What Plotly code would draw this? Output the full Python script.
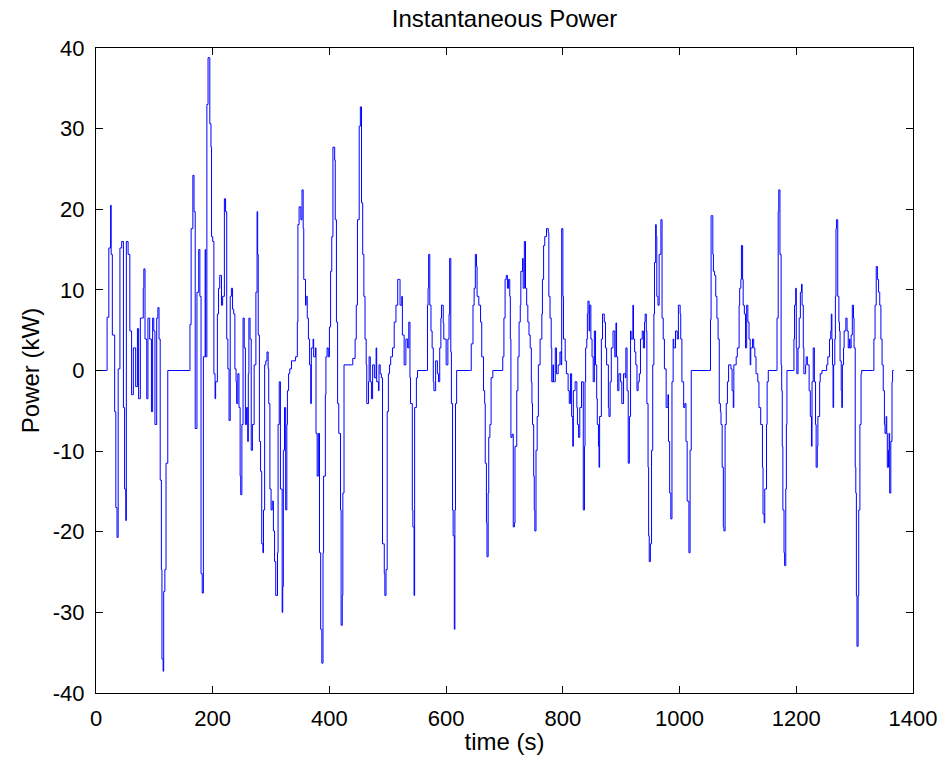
import plotly.graph_objects as go

# time (s) and instantaneous power (kW)
time_s = [
    0, 18, 19, 22, 25, 26, 28, 32, 34, 36,
    38, 41, 44, 47, 49, 51, 52, 55, 58, 61,
    64, 68, 71, 73, 76, 81, 82, 84, 87, 89,
    92, 95, 97, 99, 101, 104, 106, 108, 110, 112,
    113, 115, 116, 118, 120, 123, 160, 161, 163, 166,
    168, 170, 173, 176, 178, 180, 182, 184, 187, 188,
    190, 192, 195, 197, 198, 200, 202, 204, 205, 208,
    210, 212, 215, 217, 220, 222, 224, 226, 228, 230,
    232, 234, 236, 238, 240, 241, 243, 245, 247, 248,
    250, 252, 254, 256, 258, 260, 261, 262, 264, 266,
    268, 271, 274, 276, 277, 278, 280, 282, 284, 286,
    287, 289, 291, 293, 295, 296, 298, 300, 302, 304,
    306, 308, 311, 312, 314, 316, 319, 320, 321, 323,
    325, 327, 328, 330, 332, 335, 342, 345, 346, 348,
    351, 353, 355, 356, 359, 360, 362, 364, 366, 368,
    369, 372, 373, 376, 377, 379, 381, 383, 385, 387,
    389, 390, 393, 394, 396, 398, 400, 402, 404, 406,
    409, 410, 412, 414, 416, 419, 420, 422, 423, 425,
    440, 444, 446, 448, 451, 453, 455, 457, 459, 461,
    463, 464, 467, 468, 470, 472, 474, 477, 480, 481,
    484, 485, 487, 489, 491, 494, 495, 497, 499, 501,
    503, 505, 508, 511, 514, 517, 520, 521, 524, 525,
    528, 531, 534, 536, 538, 539, 542, 543, 545, 546,
    549, 551, 566, 568, 569, 570, 572, 574, 576, 578,
    579, 582, 585, 587, 589, 591, 592, 595, 596, 600,
    603, 605, 606, 608, 609, 611, 612, 614, 615, 616,
    618, 640, 643, 646, 648, 650, 652, 653, 656, 659,
    661, 664, 666, 667, 669, 670, 672, 673, 675, 677,
    680, 696, 697, 699, 701, 703, 705, 707, 709, 710,
    711, 713, 715, 717, 718, 721, 723, 725, 727, 728,
    731, 732, 734, 736, 738, 740, 742, 744, 746, 747,
    748, 750, 751, 752, 754, 756, 758, 761, 764, 765,
    767, 769, 772, 775, 776, 778, 780, 781, 783, 784,
    787, 789, 792, 795, 797, 798, 800, 801, 804, 806,
    809, 811, 813, 815, 817, 818, 821, 824, 825, 827,
    829, 832, 835, 837, 838, 839, 841, 842, 843, 845,
    846, 848, 850, 852, 854, 856, 858, 859, 861, 862,
    863, 866, 868, 871, 873, 875, 878, 879, 881, 883,
    886, 889, 891, 892, 894, 896, 899, 901, 904, 907,
    908, 910, 912, 914, 916, 917, 920, 921, 923, 925,
    927, 929, 931, 933, 936, 938, 940, 941, 943, 944,
    946, 947, 948, 950, 952, 954, 956, 957, 959, 960,
    961, 963, 965, 968, 970, 972, 974, 977, 980, 981,
    983, 985, 987, 989, 990, 993, 996, 998, 1001, 1002,
    1004, 1007, 1009, 1011, 1013, 1016, 1018, 1020, 1050, 1053,
    1054, 1057, 1058, 1060, 1062, 1064, 1066, 1068, 1070, 1071,
    1073, 1075, 1076, 1078, 1080, 1082, 1084, 1088, 1090, 1092,
    1093, 1097, 1099, 1102, 1103, 1105, 1106, 1108, 1109, 1111,
    1113, 1115, 1117, 1119, 1121, 1122, 1125, 1127, 1129, 1131,
    1134, 1136, 1139, 1142, 1143, 1145, 1146, 1149, 1150, 1152,
    1166, 1167, 1169, 1170, 1172, 1174, 1175, 1176, 1177, 1179,
    1180, 1182, 1183, 1184, 1195, 1196, 1197, 1199, 1200, 1201, 1203,
    1205, 1207, 1209, 1210, 1212, 1213, 1216, 1217, 1219, 1222,
    1224, 1226, 1227, 1229, 1231, 1233, 1234, 1236, 1237, 1240,
    1241, 1244, 1252, 1254, 1257, 1259, 1260, 1261, 1262, 1263,
    1264, 1266, 1267, 1268, 1269, 1271, 1273, 1274, 1275, 1277,
    1278, 1279, 1281, 1282, 1285, 1287, 1289, 1291, 1292, 1294,
    1296, 1298, 1299, 1301, 1302, 1303, 1304, 1306, 1307, 1309,
    1311, 1312, 1331, 1333, 1335, 1337, 1339, 1341, 1343, 1345,
    1347, 1349, 1351, 1352, 1354, 1355, 1356, 1358, 1359, 1360,
    1362, 1364, 1365, 1367,
]

power_kw = [
    0, 0, 6.6, 15.2, 20.5, 14.4, 4.4, -5.1, -17.0, -20.7,
    0.2, 15.2, 16.0, -4.6, -14.7, -18.6, 16.0, 14.4, 4.9, -3.0,
    2.8, -2.0, 5.2, -3.5, 6.5, 10.2, 12.6, 3.9, -3.5, 6.5,
    3.9, -5.1, 6.5, 4.9, -6.7, 6.5, 7.8, 3.9, -13.6, -24.7,
    -35.8, -37.3, -27.4, -24.7, -11.5, 0, 0, 5.7, 17.6, 24.2,
    19.7, -7.2, 9.7, 15.0, 9.2, -25.2, -27.6, 1.7, 15.0, 1.7,
    33.0, 38.8, 30.6, 27.7, 16.6, 16.0, -0.4, -3.5, -1.4, 7.0,
    10.2, 11.8, 8.1, 9.2, 21.3, 19.7, 3.9, 0.2, -6.2, 9.2,
    10.2, 7.6, 7.0, 0.2, -1.4, -4.1, -0.4, -4.6, -13.1, -15.4,
    -6.7, 6.5, 2.8, -6.7, -4.6, -8.8, -0.4, 6.5, 3.9, -9.9,
    -6.7, 0.7, 9.7, 19.7, 14.4, 4.4, -8.8, -12.5, -21.5, -22.6,
    -17.3, 0.7, 1.2, 2.3, 0.2, -4.1, -14.7, -17.3, -16.2, -19.9,
    -23.7, -27.9, -22.6, -6.7, -1.4, -14.7, -30.0, -26.8, -9.9, -4.6,
    -17.3, -6.7, -2.5, -0.4, 0.2, 1.2, 1.7, 6.0, 18.1, 20.3,
    18.7, 22.4, 17.6, 11.3, 8.1, 9.2, 6.5, 3.9, 0.7, -4.1,
    2.8, 3.9, 1.7, 2.8, -7.8, -13.1, -7.8, -22.6, -32.1, -36.3,
    -22.6, -13.1, -3.0, 1.7, 2.8, 1.7, 5.4, 12.3, 16.6, 27.7,
    26.1, 18.7, 6.0, -4.1, -7.8, -17.3, -31.6, -27.9, -15.2, 0.7,
    1.5, 3.9, 8.1, 18.7, 30.3, 32.7, 20.8, 14.4, 9.2, 3.9,
    0.7, -4.1, -1.4, 1.7, -1.4, -3.5, 0.7, -0.9, 2.8, -1.4,
    -2.5, 0.7, -0.4, -0.9, -21.5, -25.2, -27.9, -24.7, -5.1, -0.4,
    0.7, 1.7, 2.8, 6.0, 8.1, 11.3, 11.3, 8.1, 9.2, 4.4,
    0.7, 3.9, 2.8, 6.0, -0.9, -4.1, -17.3, -19.4, -27.9, -4.6,
    -0.9, 0, 0, 8.1, 10.2, 14.4, 8.1, 4.9, 2.8, -1.4,
    -2.5, 1.2, -0.4, -1.4, 2.8, 6.5, 8.1, 5.9, 3.9, 0.7,
    3.9, 7.0, 13.9, 2.3, -4.1, -17.3, -20.5, -32.1, -17.3, -4.1,
    0, 0, 3.3, 8.1, 10.2, 14.4, 12.9, 9.2, 8.1, 6.0,
    1.7, -2.5, -4.1, -11.5, -18.9, -23.1, -15.2, -8.3, -6.7, -0.9,
    0, 0, 1.7, 6.5, 11.3, 11.8, 10.2, 11.3, 9.2, 3.9,
    -8.3, -7.9, -19.4, -18.9, -9.4, -2.5, 1.7, 6.0, 8.1, 12.3,
    13.9, 10.2, 16.0, 10.2, 8.1, 6.0, 4.4, 2.8, -1.4, -4.1,
    -6.7, -13.1, -17.3, -19.9, -9.9, -5.7, 0.7, 3.9, 7.0, 11.3,
    15.5, 16.6, 17.6, 17.1, 9.2, 6.5, 2.8, -1.4, 0.7, -1.4,
    2.8, -0.4, 0.7, 2.3, 0.7, 17.6, 9.2, 3.9, 1.2, -0.4,
    -2.5, -4.1, -0.4, -5.7, -9.4, -2.5, -1.4, -4.6, -6.7, -8.3,
    -4.6, -1.4, -17.3, -9.4, -1.4, 2.8, 3.9, 7.0, 8.6, 4.9,
    8.1, 3.9, 1.7, -1.4, 4.9, 0.7, -3.5, -6.7, -9.4, -12.0,
    -5.7, 3.9, 7.0, 6.0, 2.8, 0.7, -4.6, -5.7, -1.4, 2.8,
    4.9, 1.7, 5.9, 1.7, -2.5, -0.4, -1.4, -4.1, -0.4, -0.9,
    2.8, -2.5, -11.5, -5.7, 4.9, 3.9, 8.1, 3.9, 2.3, 0.7,
    -2.5, -1.4, -0.4, 3.9, 4.9, 2.8, 6.0, 7.0, 4.9, -4.1,
    -12.0, -20.5, -23.7, -21.5, -9.9, 0.7, 7.0, 13.4, 18.1, 16.6,
    9.2, 8.1, 14.4, 18.7, 6.5, 3.9, 0.2, -4.6, -3.0, -8.8,
    -15.2, -18.4, -1.4, 3.9, 2.8, 4.9, 3.9, 8.1, 7.0, 3.9,
    -1.4, -4.6, -4.1, -8.8, -16.2, -22.6, -9.9, 0, 0, 6.3,
    19.2, 14.4, 12.3, 11.8, 9.2, 6.5, 3.9, -4.1, -5.1, -6.7,
    -12.0, -19.4, -19.9, -6.7, -4.1, -1.4, 0.7, 0.2, -2.5, -4.6,
    0.7, 1.7, 2.8, 8.1, 10.2, 11.3, 15.5, 11.3, 8.1, 7.0,
    2.8, 8.1, 6.0, 3.9, 0.7, 2.8, 3.9, 2.8, 1.7, -0.4,
    -1.4, -4.6, -6.7, -12.0, -17.8, -18.9, -14.7, -6.7, -1.4, 0,
    0, 6.5, 19.7, 22.4, 14.4, 0.7, -2.5, -9.4, -17.3, -22.6,
    -24.2, -14.7, -6.7, 0, 0, 3.9, 8.1, 10.2, 2.8, -0.4, 2.8,
    6.5, 9.7, 10.7, 8.1, 2.8, -0.4, 0.7, 1.7, 0.7, -2.5,
    -5.7, -9.4, -1.4, 2.8, -1.4, -6.7, -12.0, -9.4, -5.7, -1.4,
    -0.4, 0, 0.7, 1.7, 3.9, 4.9, 7.0, 3.9, 0.7, -4.6,
    0.7, 3.9, 9.2, 17.6, 18.7, 9.2, 6.0, 4.9, 1.2, -2.5,
    -4.6, 0.7, 2.8, 4.9, 6.5, 4.9, 2.8, 3.9, 2.8, 4.4,
    8.1, 6.5, 2.8, -12.0, -15.2, -27.9, -34.2, -27.9, -17.3, -6.7,
    -0.4, 0, 0, 3.9, 8.1, 12.9, 11.3, 9.7, 8.1, 3.9,
    0.7, -2.5, -6.7, -7.8, -5.7, -7.8, -12.0, -9.9, -7.8, -15.2,
    -8.8, -1.4, 0, 0,
]

x_ticks = [0, 200, 400, 600, 800, 1000, 1200, 1400]
y_ticks = [-40, -30, -20, -10, 0, 10, 20, 30, 40]

FONT = "Liberation Sans, Arial, sans-serif"

fig = go.Figure(
    go.Scatter(
        x=time_s,
        y=power_kw,
        mode="lines",
        line=dict(color="#0000ff", width=1, shape="hv"),
        showlegend=False,
    )
)

axis_common = dict(
    showline=True,
    linecolor="black",
    linewidth=1,
    mirror="ticks",
    ticks="inside",
    ticklen=7,
    tickcolor="black",
    showgrid=False,
    zeroline=False,
    tickfont=dict(family=FONT, size=22, color="black"),
    ticklabelstandoff=6,
)

fig.update_layout(
    width=948,
    height=769,
    paper_bgcolor="white",
    plot_bgcolor="white",
    margin=dict(l=96, r=35, t=48, b=76),
    title=dict(
        text="Instantaneous Power",
        font=dict(family=FONT, size=24, color="black"),
        x=0.5,
        xref="paper",
        xanchor="center",
        y=1 - 19 / 769,
        yref="container",
        yanchor="middle",
    ),
    xaxis=dict(
        range=[0, 1400],
        tickvals=x_ticks,
        ticktext=[str(v) for v in x_ticks],
        title=dict(text="time (s)", font=dict(family=FONT, size=24, color="black"), standoff=2),
        **axis_common,
    ),
    yaxis=dict(
        range=[-40, 40],
        tickvals=y_ticks,
        ticktext=[str(v) for v in y_ticks],
        title=dict(text="Power (kW)", font=dict(family=FONT, size=24, color="black"), standoff=6),
        **axis_common,
    ),
)

fig.write_html("out.html")
